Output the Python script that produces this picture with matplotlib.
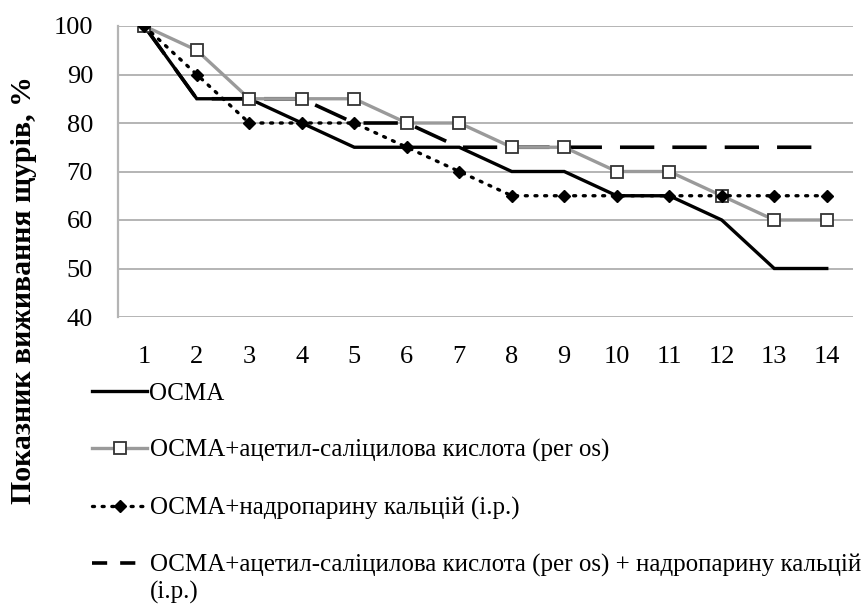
import matplotlib
matplotlib.use("Agg")
import matplotlib.pyplot as plt
from matplotlib.lines import Line2D

days = list(range(1, 15))
osma = [100, 85, 85, 80, 75, 75, 75, 70, 70, 65, 65, 60, 50, 50]
osma_asa = [100, 95, 85, 85, 85, 80, 80, 75, 75, 70, 70, 65, 60, 60]
osma_nadro = [100, 90, 80, 80, 80, 75, 70, 65, 65, 65, 65, 65, 65, 65]
osma_both = [100, 85, 85, 85, 80, 80, 75, 75, 75, 75, 75, 75, 75, 75]

labels = [
    "ОСМА",
    "ОСМА+ацетил-саліцилова кислота (per os)",
    "ОСМА+надропарину кальцій (i.p.)",
    "ОСМА+ацетил-саліцилова кислота (per os) + надропарину кальцій",
]
label_tail = "(i.p.)"
yticks = [40, 50, 60, 70, 80, 90, 100]
ylabel = "Показник виживання щурів, %"

plt.rcParams['font.family'] = ['Liberation Serif', 'DejaVu Serif']

fig = plt.figure(figsize=(8.67, 6.05), dpi=100)
ax = fig.add_axes([118/867, 1-317/605, (853-118)/867, (317-26)/605])

grid_c = '#b4b4b4'
ax.set_xlim(0.5, 14.5)
ax.set_ylim(40, 100)
ax.set_yticks(yticks)
ax.set_xticks(days)
for y in yticks:
    ax.axhline(y, color=grid_c, lw=1.4, zorder=0)
for s in ['top', 'right', 'bottom']:
    ax.spines[s].set_visible(False)
ax.spines['left'].set_color(grid_c)
ax.spines['left'].set_linewidth(1.6)
ax.tick_params(length=0, labelsize=19)
ax.tick_params(axis='y', pad=18)
ax.tick_params(axis='x', pad=21)

l1, = ax.plot(days, osma, color='black', lw=2.4, solid_joinstyle='miter', zorder=3)
l2, = ax.plot(days, osma_asa, color='#9a9a9a', lw=2.4, marker='s', markersize=9,
              markerfacecolor='white', markeredgecolor='#333333', markeredgewidth=1.3, zorder=4)
l3, = ax.plot(days, osma_nadro, color='black', lw=2.4, linestyle=(0, (0.6, 2.3)),
              dash_capstyle='round', marker='D', markersize=6, markerfacecolor='black',
              markeredgecolor='black', zorder=5)
l4, = ax.plot(days, osma_both, color='black', lw=2.6, dashes=(9.5, 5), zorder=3)
h4 = Line2D([], [], color='black', lw=2.6, dashes=(4.2, 3.6))

fig.text(24/867, 1-290/605, ylabel, rotation=90, ha='center', va='center',
         fontsize=21.5, fontweight='bold')

leg = fig.legend([l1, l2, l3, h4], labels, loc='upper left',
                 bbox_to_anchor=(92/867, 1-382/605), frameon=False,
                 fontsize=18, handlelength=2.2, handletextpad=0.1,
                 labelspacing=1.38, borderaxespad=0, borderpad=0)

fig.canvas.draw()
last = leg.get_texts()[-1]
bb = last.get_window_extent(fig.canvas.get_renderer())
fig.text(bb.x0 / fig.bbox.width, (bb.y0 - 27) / fig.bbox.height, label_tail,
         fontsize=18, ha='left', va='bottom')

fig.savefig("out.png", dpi=100)
